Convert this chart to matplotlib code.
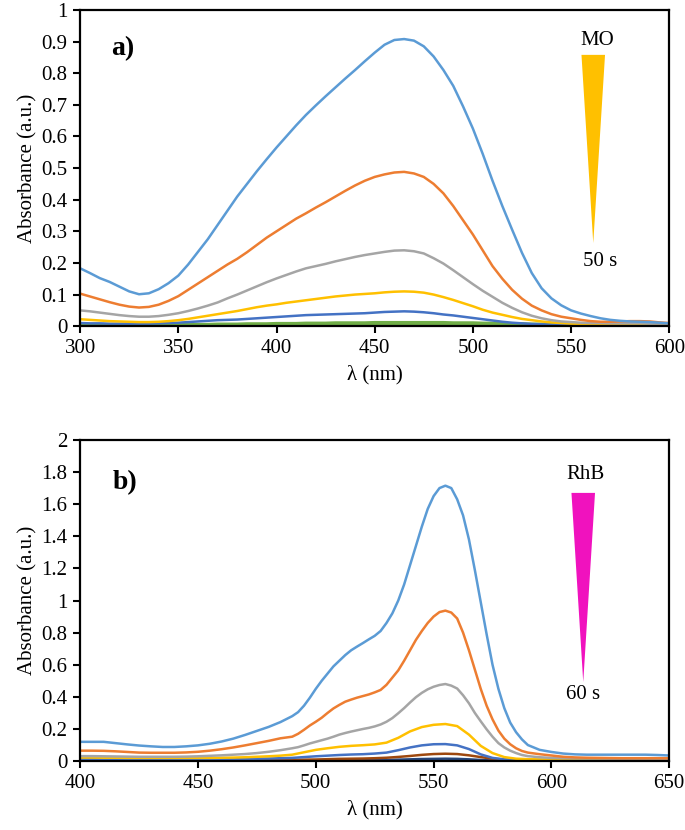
import numpy as np
import matplotlib.pyplot as plt
from matplotlib.patches import Polygon

plt.rcParams['font.family'] = ['Liberation Serif', 'DejaVu Serif']

# ---- panel a: methyl orange, 300-600 nm every 5 nm ----
wl_a = np.arange(300, 601, 5)
mo_1 = [0.183, 0.168, 0.152, 0.14, 0.125, 0.11, 0.101, 0.104, 0.117, 0.136,
        0.16, 0.195, 0.235, 0.275, 0.32, 0.365, 0.41, 0.45, 0.49, 0.528,
        0.565, 0.6, 0.635, 0.668, 0.698, 0.727, 0.755, 0.783, 0.81, 0.838,
        0.865, 0.89, 0.905, 0.908, 0.903, 0.885, 0.853, 0.81, 0.76, 0.695,
        0.625, 0.545, 0.46, 0.38, 0.305, 0.232, 0.168, 0.12, 0.088, 0.066,
        0.05, 0.04, 0.032, 0.025, 0.02, 0.017, 0.015, 0.014, 0.013, 0.011,
        0.009]
mo_2 = [0.103, 0.094, 0.085, 0.076, 0.068, 0.062, 0.059, 0.061, 0.068, 0.08,
        0.095, 0.115, 0.135, 0.155, 0.175, 0.195, 0.213, 0.234, 0.257, 0.28,
        0.30, 0.32, 0.34, 0.357, 0.375, 0.392, 0.41, 0.428, 0.445, 0.46,
        0.472, 0.48, 0.486, 0.488, 0.483, 0.472, 0.45, 0.42, 0.38, 0.335,
        0.29, 0.24, 0.19, 0.15, 0.115, 0.087, 0.065, 0.05, 0.038, 0.03,
        0.025, 0.02, 0.016, 0.014, 0.014, 0.015, 0.016, 0.016, 0.015, 0.012,
        0.01]
mo_3 = [0.05, 0.047, 0.043, 0.039, 0.035, 0.032, 0.03, 0.03, 0.032, 0.036,
        0.041, 0.048, 0.056, 0.065, 0.075, 0.088, 0.1, 0.113, 0.126, 0.139,
        0.151, 0.162, 0.173, 0.183, 0.19, 0.197, 0.205, 0.212, 0.219, 0.225,
        0.23, 0.235, 0.239, 0.24, 0.237, 0.23, 0.215, 0.198, 0.177, 0.155,
        0.133, 0.112, 0.093, 0.074, 0.058, 0.044, 0.033, 0.025, 0.019, 0.015,
        0.013, 0.011, 0.01, 0.01, 0.009, 0.009, 0.009, 0.009, 0.008, 0.008,
        0.008]
mo_4 = [0.022, 0.02, 0.018, 0.016, 0.015, 0.014, 0.013, 0.013, 0.014, 0.016,
        0.019, 0.023, 0.028, 0.033, 0.038, 0.043, 0.048, 0.054, 0.06, 0.065,
        0.069, 0.074, 0.078, 0.082, 0.086, 0.09, 0.094, 0.097, 0.1, 0.102,
        0.104, 0.107, 0.109, 0.11, 0.109, 0.106, 0.1, 0.092, 0.083, 0.073,
        0.063, 0.052, 0.043, 0.036, 0.029, 0.023, 0.019, 0.015, 0.012, 0.01,
        0.008, 0.007, 0.006, 0.005, 0.005, 0.005, 0.004, 0.004, 0.004, 0.004,
        0.004]
mo_5 = [0.01, 0.009, 0.009, 0.008, 0.008, 0.008, 0.008, 0.008, 0.009, 0.01,
        0.011, 0.013, 0.015, 0.017, 0.019, 0.02, 0.021, 0.023, 0.025, 0.027,
        0.029, 0.031, 0.033, 0.035, 0.036, 0.037, 0.038, 0.039, 0.04, 0.041,
        0.043, 0.045, 0.046, 0.047, 0.046, 0.044, 0.041, 0.037, 0.034, 0.03,
        0.026, 0.022, 0.018, 0.014, 0.011, 0.009, 0.007, 0.006, 0.005, 0.004,
        0.003, 0.003, 0.003, 0.002, 0.002, 0.002, 0.002, 0.002, 0.002, 0.002,
        0.002]
mo_6 = [0.003, 0.003, 0.003, 0.003, 0.003, 0.003, 0.003, 0.003, 0.003, 0.003,
        0.003, 0.004, 0.004, 0.004, 0.005, 0.005, 0.005, 0.006, 0.006, 0.006,
        0.007, 0.007, 0.007, 0.008, 0.008, 0.008, 0.009, 0.009, 0.009, 0.009,
        0.01, 0.01, 0.01, 0.01, 0.01, 0.01, 0.01, 0.01, 0.009, 0.009,
        0.009, 0.008, 0.008, 0.007, 0.006, 0.006, 0.005, 0.005, 0.004, 0.004,
        0.004, 0.004, 0.004, 0.004, 0.004, 0.004, 0.004, 0.004, 0.004, 0.004,
        0.004]

# ---- panel b: rhodamine B ----
# finer step around the band for the three strongest spectra
wl_b_fine = np.concatenate([np.arange(400, 486, 5), np.arange(490, 590.1, 2.5),
                            np.arange(595, 651, 5)])
wl_b = np.arange(400, 651, 5)
rhb_1 = [0.12, 0.12, 0.12, 0.112, 0.104, 0.097, 0.092, 0.088, 0.088, 0.092,
         0.098, 0.108, 0.122, 0.14, 0.163, 0.188, 0.213, 0.243,
         0.28, 0.305, 0.345, 0.395, 0.45, 0.5, 0.545, 0.59, 0.625, 0.66,
         0.69, 0.713, 0.735, 0.758, 0.78, 0.81, 0.86, 0.92, 1.0, 1.1,
         1.22, 1.34, 1.46, 1.57, 1.65, 1.70, 1.715, 1.70, 1.63, 1.53,
         1.38, 1.19, 0.99, 0.79, 0.60, 0.45, 0.33, 0.24, 0.18, 0.135, 0.10,
         0.07, 0.057, 0.047, 0.042, 0.04, 0.04, 0.04, 0.04, 0.04, 0.04, 0.038, 0.035]
rhb_2 = [0.065, 0.065, 0.064, 0.061, 0.057, 0.053, 0.052, 0.052, 0.052, 0.054,
         0.058, 0.065, 0.074, 0.085, 0.098, 0.112, 0.126, 0.142,
         0.152, 0.17, 0.195, 0.222, 0.245, 0.27, 0.3, 0.328, 0.35, 0.37,
         0.383, 0.395, 0.405, 0.415, 0.428, 0.443, 0.475, 0.52, 0.565, 0.625,
         0.69, 0.755, 0.81, 0.86, 0.9, 0.928, 0.937, 0.925, 0.888, 0.8,
         0.69, 0.57, 0.45, 0.345, 0.26, 0.19, 0.14, 0.105, 0.08, 0.063, 0.053,
         0.043, 0.035, 0.027, 0.023, 0.021, 0.02, 0.019, 0.018, 0.018, 0.018, 0.018, 0.018]
rhb_3 = [0.031, 0.031, 0.03, 0.029, 0.028, 0.027, 0.027, 0.027, 0.027, 0.028,
         0.03, 0.033, 0.036, 0.04, 0.044, 0.05, 0.058, 0.068,
         0.08, 0.087, 0.098, 0.11, 0.12, 0.13, 0.14, 0.152, 0.165, 0.175,
         0.184, 0.192, 0.2, 0.207, 0.216, 0.228, 0.245, 0.268, 0.298, 0.33,
         0.365, 0.398, 0.425, 0.447, 0.463, 0.474, 0.48, 0.47, 0.452, 0.41,
         0.36, 0.3, 0.248, 0.198, 0.152, 0.112, 0.085, 0.065, 0.05, 0.038, 0.031,
         0.024, 0.02, 0.018, 0.017, 0.016, 0.016, 0.015, 0.015, 0.015, 0.015, 0.015, 0.015]
rhb_4 = [0.022, 0.022, 0.021, 0.021, 0.02, 0.02, 0.02, 0.02, 0.02, 0.02, 0.02,
         0.02, 0.021, 0.022, 0.024, 0.027, 0.03, 0.034, 0.04, 0.055, 0.07,
         0.08, 0.089, 0.095, 0.099, 0.104, 0.115, 0.145, 0.185, 0.212, 0.226,
         0.231, 0.218, 0.165, 0.095, 0.05, 0.025, 0.015, 0.012, 0.011, 0.01,
         0.01, 0.01, 0.01, 0.01, 0.009, 0.009, 0.009, 0.009, 0.009, 0.009]
rhb_5 = [0.012, 0.012, 0.012, 0.012, 0.011, 0.011, 0.011, 0.011, 0.011, 0.011, 0.012,
         0.012, 0.013, 0.013, 0.014, 0.015, 0.016, 0.018, 0.02, 0.025, 0.03,
         0.034, 0.038, 0.041, 0.043, 0.047, 0.053, 0.068, 0.085, 0.098, 0.105,
         0.106, 0.098, 0.075, 0.042, 0.02, 0.011, 0.008, 0.007, 0.006, 0.006,
         0.005, 0.005, 0.005, 0.005, 0.005, 0.005, 0.005, 0.005, 0.005, 0.005]
rhb_6 = [0.006, 0.006, 0.006, 0.006, 0.006, 0.006, 0.006, 0.006, 0.006, 0.006, 0.006,
         0.006, 0.006, 0.006, 0.007, 0.007, 0.007, 0.008, 0.008, 0.009, 0.01,
         0.012, 0.014, 0.015, 0.016, 0.018, 0.021, 0.026, 0.032, 0.039, 0.044,
         0.046, 0.044, 0.036, 0.025, 0.015, 0.009, 0.006, 0.005, 0.005, 0.004,
         0.004, 0.004, 0.004, 0.004, 0.004, 0.004, 0.004, 0.004, 0.004, 0.004]
rhb_7 = [0.002, 0.002, 0.002, 0.002, 0.002, 0.002, 0.002, 0.002, 0.002, 0.002, 0.002,
         0.002, 0.002, 0.002, 0.002, 0.003, 0.003, 0.003, 0.003, 0.004, 0.004,
         0.005, 0.005, 0.006, 0.006, 0.007, 0.007, 0.009, 0.011, 0.013, 0.014,
         0.015, 0.014, 0.011, 0.007, 0.004, 0.003, 0.002, 0.002, 0.002, 0.002,
         0.002, 0.002, 0.002, 0.002, 0.002, 0.002, 0.002, 0.002, 0.002, 0.002]

colors_a = ['#5B9BD5', '#ED7D31', '#A5A5A5', '#FFC000', '#4472C4', '#70AD47']
colors_b = ['#5B9BD5', '#ED7D31', '#A5A5A5', '#FFC000', '#4472C4', '#9E480E', '#264478']

fig = plt.figure(figsize=(6.85, 8.3), dpi=100)
ax1 = fig.add_axes([0.117, 0.607, 0.860, 0.381])
ax2 = fig.add_axes([0.117, 0.083, 0.860, 0.387])


def style(ax):
    for s in ax.spines.values():
        s.set_linewidth(1.6)
        s.set_color('black')
    ax.tick_params(direction='out', length=5, width=1.5, labelsize=15, pad=4)
    ax.set_ylabel('Absorbance (a.u.)', fontsize=15, labelpad=3)
    ax.set_xlabel('λ (nm)', fontsize=15, labelpad=5)


# panel a - draw weakest first so the strongest ends up on top
series_a = [mo_6, mo_5, mo_4, mo_3, mo_2, mo_1]
for ys, c in zip(series_a, colors_a[::-1]):
    lw = 3 if c == '#70AD47' else 1.8
    ax1.plot(wl_a, ys, color=c, lw=lw, solid_capstyle='round')
ax1.set_xlim(300, 600)
ax1.set_ylim(0, 1)
ax1.set_xticks(np.arange(300, 601, 50))
ax1.set_yticks(np.arange(0, 1.01, 0.1))
ax1.set_yticklabels(['0', '0.1', '0.2', '0.3', '0.4', '0.5', '0.6', '0.7', '0.8', '0.9', '1'])
style(ax1)
ax1.text(0.072, 0.877, 'a)', transform=ax1.transAxes, fontsize=20, fontweight='bold',
         ha='center', va='center')
ax1.add_patch(Polygon([[0.851, 0.858], [0.891, 0.858], [0.871, 0.263]], closed=True,
                      transform=ax1.transAxes, color='#FFC000', lw=0))
ax1.text(0.878, 0.905, 'MO', transform=ax1.transAxes, fontsize=15, ha='center', va='center')
ax1.text(0.883, 0.203, '50 s', transform=ax1.transAxes, fontsize=15, ha='center', va='center')

# panel b
for ys, c in zip([rhb_7, rhb_6, rhb_5, rhb_4], colors_b[:2:-1]):
    ax2.plot(wl_b, ys, color=c, lw=1.8, solid_capstyle='round')
for ys, c in zip([rhb_3, rhb_2, rhb_1], colors_b[2::-1]):
    ax2.plot(wl_b_fine, ys, color=c, lw=1.8, solid_capstyle='round')
ax2.set_xlim(400, 650)
ax2.set_ylim(0, 2)
ax2.set_xticks(np.arange(400, 651, 50))
ax2.set_yticks(np.arange(0, 2.01, 0.2))
ax2.set_yticklabels(['0', '0.2', '0.4', '0.6', '0.8', '1', '1.2', '1.4', '1.6', '1.8', '2'])
style(ax2)
ax2.text(0.076, 0.866, 'b)', transform=ax2.transAxes, fontsize=20, fontweight='bold',
         ha='center', va='center')
ax2.add_patch(Polygon([[0.834, 0.835], [0.874, 0.835], [0.854, 0.246]], closed=True,
                      transform=ax2.transAxes, color='#F012BE', lw=0))
ax2.text(0.857, 0.891, 'RhB', transform=ax2.transAxes, fontsize=15, ha='center', va='center')
ax2.text(0.854, 0.206, '60 s', transform=ax2.transAxes, fontsize=15, ha='center', va='center')

fig.savefig('out.png', dpi=100)
